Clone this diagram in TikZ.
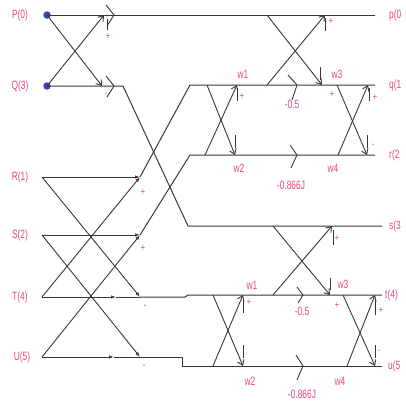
\documentclass[tikz,border=0pt]{standalone}
\usepackage{fontspec}
\setmainfont{Liberation Sans}
\newfontfamily\lblfont[FakeStretch=0.7]{Liberation Sans}
\usetikzlibrary{arrows.meta}
\definecolor{lbl}{RGB}{232,72,118}
\definecolor{ln}{RGB}{55,55,55}
\definecolor{dotc}{RGB}{50,70,180}
\begin{document}
\begin{tikzpicture}[x=1pt,y=-1pt,
 wire/.style={draw=ln, line width=1pt},
 bfly/.style={draw=ln, line width=0.9pt, -{Straight Barb[length=5pt,width=7pt]}},
 farr/.style={draw=ln, line width=0.9pt, -{Latex[length=5pt,width=3.5pt]}},
 tick/.style={draw=ln, line width=0.8pt},
 chev/.style={draw=ln, line width=0.9pt},
 lab/.style={text=lbl, font=\lblfont\fontsize{12}{12}\selectfont, inner sep=0pt},
 sgn/.style={text=lbl, font=\lblfont\fontsize{10.5}{10.5}\selectfont, inner sep=0pt},
 dot/.style={circle, fill=dotc, inner sep=0pt, minimum size=7.5pt},
]
\useasboundingbox (0,0) rectangle (406,410);
% ---------- coordinates ----------
\coordinate (P0) at (47,15);  \coordinate (Q0) at (47,86);
\coordinate (Pa) at (104,15); \coordinate (Qa) at (102,86);
\coordinate (Qk) at (123,86); \coordinate (sK) at (188,226);
\coordinate (pE) at (375,15); \coordinate (sE) at (382,226);
\coordinate (R0) at (42,177); \coordinate (S0) at (42,235);
\coordinate (T0) at (42,297); \coordinate (U0) at (42,357);
\coordinate (R1) at (140,177); \coordinate (S1) at (140,235);
\coordinate (T1) at (140,297); \coordinate (U1) at (140,357);
\coordinate (Tm) at (116,297); \coordinate (Um) at (114,357);
\coordinate (qK) at (190,85); \coordinate (rK) at (190,155);
\coordinate (qE) at (375,85); \coordinate (rE) at (375,155);
\coordinate (tA) at (185,297); \coordinate (tK) at (188,295);
\coordinate (uA) at (182,357); \coordinate (uK) at (182,366);
\coordinate (tE) at (382,295); \coordinate (uE) at (382,366);
% ---------- stage 1 (P,Q) ----------
\node[dot] (dP) at (P0) {};
\node[dot] (dQ) at (Q0) {};
\draw[wire] (dP.center) -- (pE);
\draw[wire] (dQ.center) -- (Qk) -- (sK) -- (sE);
\draw[bfly] (dP.center) -- (Qa);
\draw[bfly] (dQ.center) -- (Pa);
\draw[chev] (114,15) ++(-8,-10) -- (114,15) -- ++(-7,11);
\draw[chev] (114,86) ++(-8,-10) -- (114,86) -- ++(-7,11);
\draw[tick] (107,19) -- (107,30);
\node[sgn] (s1) at (108,36) {+};
\node[sgn] (s2) at (106,95) {-};
% ---------- stage 1 (R,S,T,U) ----------
\draw[farr] (R0) -- (R1);
\draw[farr] (S0) -- (S1);
\draw[farr] (T0) -- (Tm); \draw[wire] (Tm) -- (T1);
\draw[farr] (U0) -- (Um); \draw[wire] (Um) -- (U1);
\draw[farr] (R0) -- (T1);
\draw[farr] (T0) -- (R1);
\draw[farr] (S0) -- (U1);
\draw[farr] (U0) -- (S1);
\node[sgn] (s3) at (143,192) {+};
\node[sgn] (s4) at (143,248) {+};
\node[sgn] (s5) at (145,307) {-};
\node[sgn] (s6) at (144,367) {-};
% ---------- stage 2 wiring ----------
\draw[wire] (R1) -- (qK) -- (qE);
\draw[wire] (S1) -- (rK) -- (rE);
\draw[wire] (T1) -- (tA) -- (tK) -- (tE);
\draw[wire] (U1) -- (uA) -- (uK) -- (uE);
% ---------- stage 3, upper half ----------
\coordinate (a1) at (267,15);  \coordinate (a2) at (322,85);
\coordinate (a3) at (267,85);  \coordinate (a4) at (325,15);
\draw[bfly] (a1) -- (a2);
\draw[bfly] (a3) -- (a4);
\draw[tick] (325,18) -- (325,31);
\draw[tick] (320,67) -- (320,80);
\node[sgn] (s7) at (331,21) {+};
\coordinate (b1) at (207,85);  \coordinate (b2) at (235,155);
\coordinate (b3) at (205,155); \coordinate (b4) at (237,85);
\draw[bfly] (b1) -- (b2);
\draw[bfly] (b3) -- (b4);
\draw[tick] (237,88) -- (237,101);
\draw[tick] (235,135) -- (235,148);
\node[sgn] (s8) at (242,96) {+};
\node[lab] (w1a) at (243,74) {w1};
\node[lab] (w2a) at (239,168) {w2};
\coordinate (c1) at (337,85);  \coordinate (c2) at (367,155);
\coordinate (c3) at (338,155); \coordinate (c4) at (368,85);
\draw[bfly] (c1) -- (c2);
\draw[bfly] (c3) -- (c4);
\draw[tick] (369,88) -- (369,101);
\draw[tick] (367,135) -- (367,148);
\node[sgn] (s9) at (375,97) {+};
\node[sgn] (s10) at (373,146) {-};
\node[sgn] (s11) at (332,94) {+};
\node[lab] (w3a) at (337,74) {w3};
\node[lab] (w4a) at (333,168) {w4};
\draw[chev] (297,85) ++(-9,-10) -- (297,85) -- ++(-5,15);
\draw[chev] (297,155) ++(-7,-10) -- (297,155) -- ++(-6,13);
\node[lab] (m1) at (292,104) {-0.5};
\node[lab] (m2) at (291,185) {-0.866J};
% ---------- stage 3, lower half ----------
\coordinate (d1) at (273,226); \coordinate (d2) at (330,295);
\coordinate (d3) at (273,295); \coordinate (d4) at (332,226);
\draw[bfly] (d1) -- (d2);
\draw[bfly] (d3) -- (d4);
\draw[tick] (333,230) -- (333,245);
\draw[tick] (330,278) -- (330,290);
\node[sgn] (s12) at (337,238) {+};
\node[sgn] (s13) at (337,305) {+};
\node[lab] (w3b) at (343,284) {w3};
\coordinate (e1) at (213,295); \coordinate (e2) at (243,366);
\coordinate (e3) at (213,366); \coordinate (e4) at (243,295);
\draw[bfly] (e1) -- (e2);
\draw[bfly] (e3) -- (e4);
\draw[tick] (243,300) -- (243,313);
\draw[tick] (243,345) -- (243,358);
\node[sgn] (s14) at (249,302) {+};
\node[lab] (w1b) at (252,285) {w1};
\node[lab] (w2b) at (250,381) {w2};
\coordinate (f1) at (343,295); \coordinate (f2) at (375,366);
\coordinate (f3) at (347,366); \coordinate (f4) at (375,295);
\draw[bfly] (f1) -- (f2);
\draw[bfly] (f3) -- (f4);
\draw[tick] (375,300) -- (375,315);
\draw[tick] (375,345) -- (375,358);
\node[sgn] (s15) at (381,310) {+};
\node[sgn] (s16) at (379,352) {-};
\node[lab] (w4b) at (340,381) {w4};
\draw[chev] (303,295) ++(-6,-8) -- (303,295) -- ++(-5,8);
\draw[chev] (303,366) ++(-7,-11) -- (303,366) -- ++(-6,14);
\node[lab] (m3) at (302,311) {-0.5};
\node[lab] (m4) at (302,394) {-0.866J};
% ---------- input / output labels ----------
\node[lab] (lP) at (20,15) {P(0)};
\node[lab] (lQ) at (20,86) {Q(3)};
\node[lab] (lR) at (20,177) {R(1)};
\node[lab] (lS) at (20,235) {S(2)};
\node[lab] (lT) at (20,297) {T(4)};
\node[lab] (lU) at (22,357) {U(5)};
\node[lab,anchor=west] (op) at (389,15) {p(0};
\node[lab,anchor=west] (oq) at (389,85) {q(1};
\node[lab,anchor=west] (or) at (389,155) {r(2};
\node[lab,anchor=west] (os) at (389,226) {s(3};
\node[lab,anchor=west] (ot) at (385,295) {t(4)};
\node[lab,anchor=west] (ou) at (388,366) {u(5};
\end{tikzpicture}
\end{document}
